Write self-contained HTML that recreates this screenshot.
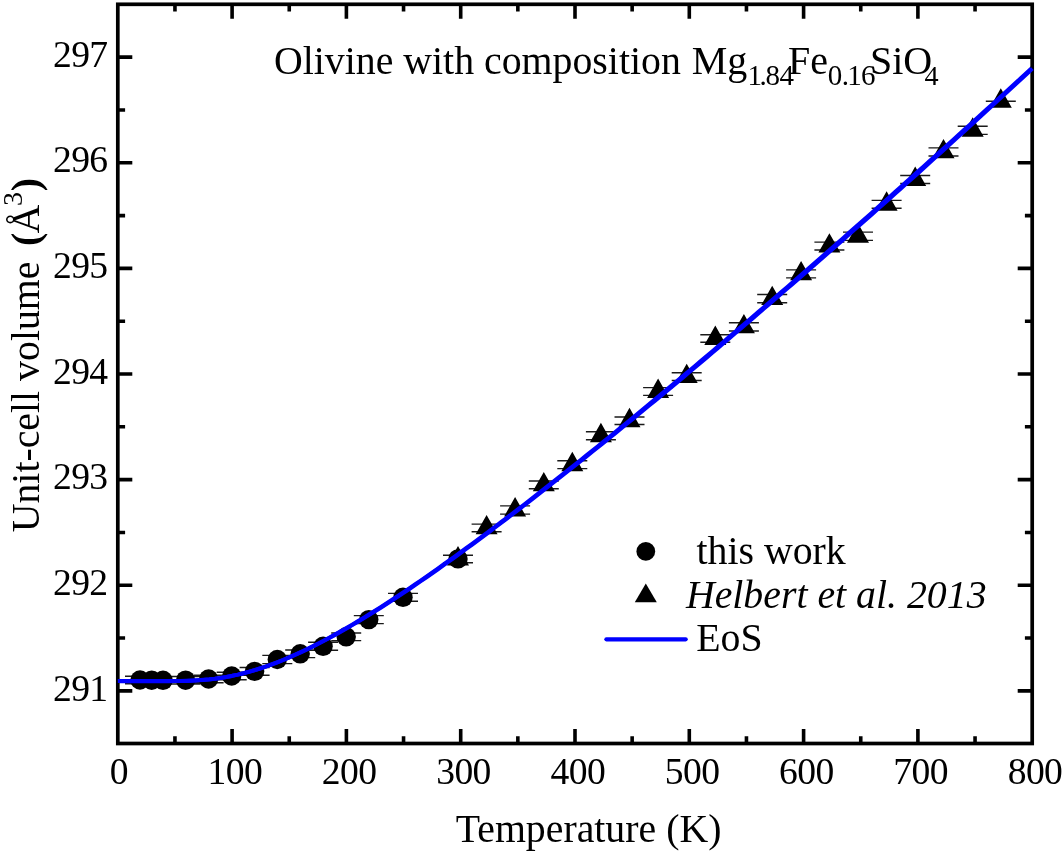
<!DOCTYPE html>
<html><head><meta charset="utf-8"><title>Olivine unit-cell volume</title>
<style>html,body{margin:0;padding:0;background:#fff;}body{width:1062px;height:853px;overflow:hidden;font-family:"Liberation Serif",serif;}</style></head>
<body>
<svg width="1062" height="853" viewBox="0 0 1062 853" style="display:block;will-change:transform">
<rect x="0" y="0" width="1062" height="853" fill="#ffffff"/>
<path d="M174.95 743.50V736.20M174.95 4.30V11.60M232.10 743.50V729.00M232.10 4.30V18.80M289.25 743.50V736.20M289.25 4.30V11.60M346.40 743.50V729.00M346.40 4.30V18.80M403.55 743.50V736.20M403.55 4.30V11.60M460.70 743.50V729.00M460.70 4.30V18.80M517.85 743.50V736.20M517.85 4.30V11.60M575.00 743.50V729.00M575.00 4.30V18.80M632.15 743.50V736.20M632.15 4.30V11.60M689.30 743.50V729.00M689.30 4.30V18.80M746.45 743.50V736.20M746.45 4.30V11.60M803.60 743.50V729.00M803.60 4.30V18.80M860.75 743.50V736.20M860.75 4.30V11.60M917.90 743.50V729.00M917.90 4.30V18.80M975.05 743.50V736.20M975.05 4.30V11.60M117.80 690.86H132.30M1032.20 690.86H1017.70M117.80 638.05H125.10M1032.20 638.05H1024.90M117.80 585.24H132.30M1032.20 585.24H1017.70M117.80 532.43H125.10M1032.20 532.43H1024.90M117.80 479.63H132.30M1032.20 479.63H1017.70M117.80 426.82H125.10M1032.20 426.82H1024.90M117.80 374.01H132.30M1032.20 374.01H1017.70M117.80 321.20H125.10M1032.20 321.20H1024.90M117.80 268.39H132.30M1032.20 268.39H1017.70M117.80 215.58H125.10M1032.20 215.58H1024.90M117.80 162.77H132.30M1032.20 162.77H1017.70M117.80 109.97H125.10M1032.20 109.97H1024.90M117.80 57.16H132.30M1032.20 57.16H1017.70" stroke="#000" stroke-width="3.6" fill="none"/>
<path d="M125.00 676.25H155.00M125.00 683.75H155.00M136.70 676.45H166.70M136.70 683.95H166.70M148.00 676.55H178.00M148.00 684.05H178.00M170.60 676.45H200.60M170.60 683.95H200.60M193.60 675.20H223.60M193.60 682.80H223.60M216.70 672.20H246.70M216.70 679.80H246.70M239.60 667.50H269.60M239.60 675.30H269.60M262.30 655.40H292.30M262.30 663.60H292.30M285.20 650.00H315.20M285.20 657.60H315.20M308.10 642.30H338.10M308.10 650.30H338.10M331.20 633.00H361.20M331.20 640.60H361.20M353.80 615.60H383.80M353.80 623.60H383.80M388.00 593.40H418.00M388.00 601.20H418.00M443.00 555.10H473.00M443.00 562.70H473.00M443.00 555.20H473.00M443.00 562.80H473.00M471.60 524.10H501.60M471.60 531.70H501.60M500.10 505.90H530.10M500.10 514.10H530.10M528.80 481.05H558.80M528.80 488.75H558.80M557.30 460.75H587.30M557.30 468.65H587.30M585.90 431.80H615.90M585.90 439.80H615.90M614.50 416.95H644.50M614.50 424.45H644.50M643.10 387.65H673.10M643.10 395.35H673.10M671.70 372.70H701.70M671.70 380.50H701.70M700.30 334.70H730.30M700.30 342.30H730.30M728.90 322.75H758.90M728.90 330.95H758.90M757.20 294.45H787.20M757.20 302.75H787.20M786.10 269.90H816.10M786.10 277.90H816.10M814.40 242.15H844.40M814.40 250.05H844.40M843.00 232.15H873.00M843.00 240.35H873.00M871.60 200.35H901.60M871.60 208.25H901.60M900.20 175.50H930.20M900.20 183.50H930.20M928.50 147.85H958.50M928.50 155.95H958.50M957.70 126.20H987.70M957.70 134.40H987.70M985.80 101.30H1015.80" stroke="#1a1a1a" stroke-width="1.4" fill="none"/>
<circle cx="140.00" cy="680.00" r="9.7" fill="#000"/>
<circle cx="151.70" cy="680.20" r="9.7" fill="#000"/>
<circle cx="163.00" cy="680.30" r="9.7" fill="#000"/>
<circle cx="185.60" cy="680.20" r="9.7" fill="#000"/>
<circle cx="208.60" cy="679.00" r="9.7" fill="#000"/>
<circle cx="231.70" cy="676.00" r="9.7" fill="#000"/>
<circle cx="254.60" cy="671.40" r="9.7" fill="#000"/>
<circle cx="277.30" cy="659.50" r="9.7" fill="#000"/>
<circle cx="300.20" cy="653.80" r="9.7" fill="#000"/>
<circle cx="323.10" cy="646.30" r="9.7" fill="#000"/>
<circle cx="346.20" cy="636.80" r="9.7" fill="#000"/>
<circle cx="368.80" cy="619.60" r="9.7" fill="#000"/>
<circle cx="403.00" cy="597.30" r="9.7" fill="#000"/>
<circle cx="458.00" cy="558.90" r="9.7" fill="#000"/>
<path d="M458.00 546.07L469.00 565.47H447.00ZM486.60 514.97L497.60 534.37H475.60ZM515.10 497.07L526.10 516.47H504.10ZM543.80 471.97L554.80 491.37H532.80ZM572.30 451.77L583.30 471.17H561.30ZM600.90 422.87L611.90 442.27H589.90ZM629.50 407.77L640.50 427.17H618.50ZM658.10 378.57L669.10 397.97H647.10ZM686.70 363.67L697.70 383.07H675.70ZM715.30 325.57L726.30 344.97H704.30ZM743.90 313.92L754.90 333.32H732.90ZM772.20 285.67L783.20 305.07H761.20ZM801.10 260.97L812.10 280.37H790.10ZM829.40 233.17L840.40 252.57H818.40ZM858.00 223.32L869.00 242.72H847.00ZM886.60 191.37L897.60 210.77H875.60ZM915.20 166.57L926.20 185.97H904.20ZM943.50 138.97L954.50 158.37H932.50ZM972.70 117.37L983.70 136.77H961.70ZM1000.80 88.37L1011.80 107.77H989.80Z" fill="#000"/>
<polyline points="117.80,681.15 123.52,681.15 129.23,681.15 134.94,681.15 140.66,681.15 146.38,681.15 152.09,681.15 157.81,681.15 163.52,681.14 169.24,681.13 174.95,681.09 180.66,681.01 186.38,680.88 192.09,680.67 197.81,680.37 203.52,679.96 209.24,679.43 214.95,678.77 220.67,677.96 226.38,677.01 232.10,675.92 237.81,674.67 243.53,673.28 249.25,671.75 254.96,670.07 260.68,668.26 266.39,666.31 272.11,664.24 277.82,662.05 283.54,659.74 289.25,657.32 294.96,654.79 300.68,652.16 306.39,649.44 312.11,646.63 317.82,643.72 323.54,640.74 329.25,637.67 334.97,634.53 340.69,631.32 346.40,628.05 352.12,624.70 357.83,621.30 363.55,617.84 369.26,614.32 374.98,610.75 380.69,607.13 386.41,603.46 392.12,599.74 397.84,595.98 403.55,592.17 409.27,588.33 414.98,584.45 420.69,580.53 426.41,576.57 432.12,572.58 437.84,568.56 443.56,564.50 449.27,560.41 454.99,556.30 460.70,552.16 466.42,547.99 472.13,543.79 477.85,539.56 483.56,535.32 489.28,531.05 494.99,526.75 500.71,522.43 506.42,518.10 512.13,513.74 517.85,509.36 523.56,504.96 529.28,500.54 535.00,496.10 540.71,491.65 546.42,487.18 552.14,482.69 557.86,478.18 563.57,473.66 569.28,469.12 575.00,464.57 580.72,460.00 586.43,455.41 592.14,450.82 597.86,446.20 603.58,441.58 609.29,436.94 615.00,432.29 620.72,427.62 626.43,422.94 632.15,418.25 637.87,413.55 643.58,408.84 649.29,404.11 655.01,399.38 660.72,394.63 666.44,389.87 672.15,385.10 677.87,380.32 683.58,375.53 689.30,370.72 695.01,365.91 700.73,361.09 706.44,356.26 712.16,351.42 717.88,346.57 723.59,341.71 729.30,336.84 735.02,331.96 740.74,327.07 746.45,322.17 752.16,317.27 757.88,312.35 763.59,307.43 769.31,302.50 775.02,297.56 780.74,292.61 786.45,287.66 792.17,282.69 797.88,277.72 803.60,272.74 809.31,267.75 815.03,262.76 820.75,257.75 826.46,252.74 832.17,247.72 837.89,242.70 843.61,237.66 849.32,232.62 855.03,227.58 860.75,222.52 866.46,217.46 872.18,212.39 877.89,207.31 883.61,202.23 889.32,197.14 895.04,192.04 900.75,186.94 906.47,181.83 912.18,176.71 917.90,171.58 923.62,166.45 929.33,161.31 935.04,156.17 940.76,151.02 946.48,145.86 952.19,140.70 957.90,135.53 963.62,130.35 969.33,125.17 975.05,119.98 980.76,114.78 986.48,109.58 992.19,104.37 997.91,99.16 1003.62,93.94 1009.34,88.71 1015.05,83.48 1020.77,78.24 1026.49,73.00 1032.20,67.75" fill="none" stroke="#0000ff" stroke-width="4" stroke-linejoin="round"/>
<rect x="117.8" y="4.3" width="914.40" height="739.20" fill="none" stroke="#000" stroke-width="3.7"/>
<polyline points="117.80,681.05 123.52,681.05 129.23,681.05 134.95,681.05 140.66,681.05 146.38,681.05 152.10,681.05 157.81,681.05 163.53,681.04 169.25,681.03 174.96,680.99 180.68,680.91 186.40,680.78 192.11,680.57 197.83,680.27 203.54,679.86 209.26,679.33 214.98,678.67 220.69,677.87 226.41,676.92 232.12,675.82 237.84,674.58 243.56,673.19 249.27,671.66 254.99,670.01 260.71,668.22 266.42,666.31 272.14,664.26 277.86,662.10 283.57,659.82 289.29,657.43 295.00,654.93 300.72,652.33 306.44,649.64 312.15,646.85 317.87,643.98 323.59,641.02 329.30,637.99 335.02,634.88 340.73,631.70 346.45,628.45 352.17,625.14 357.88,621.76 363.60,618.33 369.32,614.84 375.03,611.30 380.75,607.71 386.46,604.05 392.18,600.34 397.90,596.59 403.61,592.80 409.33,588.97 415.05,585.09 420.76,581.18 426.48,577.24 432.19,573.26 437.91,569.25 443.63,565.20 449.34,561.13 455.06,557.02 460.78,552.89 466.49,548.73 472.21,544.54 477.92,540.32 483.64,536.08 489.36,531.81 495.07,527.52 500.79,523.21 506.51,518.88 512.22,514.52 517.94,510.15 523.65,505.75 529.37,501.34 535.09,496.91 540.80,492.46 546.52,487.99 552.24,483.51 557.95,479.01 563.67,474.50 569.38,469.99 575.10,465.46 580.82,460.91 586.53,456.35 592.25,451.78 597.97,447.19 603.68,442.59 609.40,437.97 615.11,433.35 620.83,428.71 626.55,424.05 632.26,419.39 637.98,414.71 643.70,410.02 649.41,405.32 655.13,400.61 660.84,395.88 666.56,391.15 672.28,386.40 677.99,381.64 683.71,376.86 689.43,372.07 695.14,367.26 700.86,362.45 706.57,357.62 712.29,352.78 718.01,347.94 723.72,343.08 729.44,338.22 735.15,333.35 740.87,328.46 746.59,323.57 752.30,318.67 758.02,313.76 763.74,308.85 769.45,303.92 775.17,298.99 780.89,294.04 786.60,289.09 792.32,284.14 798.03,279.17 803.75,274.19 809.47,269.21 815.18,264.22 820.90,259.22 826.62,254.22 832.33,249.21 838.05,244.18 843.76,239.16 849.48,234.12 855.20,229.08 860.91,224.03 866.63,218.97 872.35,213.91 878.06,208.84 883.78,203.76 889.49,198.67 895.21,193.58 900.93,188.48 906.64,183.38 912.36,178.27 918.08,173.15 923.79,168.00 929.51,162.82 935.22,157.64 940.94,152.46 946.66,147.27 952.37,142.07 958.09,136.86 963.81,131.65 969.52,126.43 975.24,121.21 980.95,115.98 986.67,110.74 992.39,105.50 998.10,100.25 1003.82,94.99 1009.54,89.73 1015.25,84.47 1020.97,79.19 1026.68,73.91 1032.40,68.63" fill="none" stroke="#0000ff" stroke-width="4" stroke-linejoin="round"/>
<text id="xl0" x="118.80" y="784.3" text-anchor="middle" font-family="Liberation Serif, serif" font-size="37.6" letter-spacing="-0.55">0</text>
<text id="xl1" x="234.90" y="784.3" text-anchor="middle" font-family="Liberation Serif, serif" font-size="37.6" letter-spacing="-0.55">100</text>
<text id="xl2" x="349.20" y="784.3" text-anchor="middle" font-family="Liberation Serif, serif" font-size="37.6" letter-spacing="-0.55">200</text>
<text id="xl3" x="463.50" y="784.3" text-anchor="middle" font-family="Liberation Serif, serif" font-size="37.6" letter-spacing="-0.55">300</text>
<text id="xl4" x="577.80" y="784.3" text-anchor="middle" font-family="Liberation Serif, serif" font-size="37.6" letter-spacing="-0.55">400</text>
<text id="xl5" x="692.10" y="784.3" text-anchor="middle" font-family="Liberation Serif, serif" font-size="37.6" letter-spacing="-0.55">500</text>
<text id="xl6" x="806.40" y="784.3" text-anchor="middle" font-family="Liberation Serif, serif" font-size="37.6" letter-spacing="-0.55">600</text>
<text id="xl7" x="920.70" y="784.3" text-anchor="middle" font-family="Liberation Serif, serif" font-size="37.6" letter-spacing="-0.55">700</text>
<text id="xl8" x="1035.00" y="784.3" text-anchor="middle" font-family="Liberation Serif, serif" font-size="37.6" letter-spacing="-0.55">800</text>
<text id="yl291" x="52.9" y="700.51" font-family="Liberation Serif, serif" font-size="37.6" letter-spacing="-0.55">291</text>
<text id="yl292" x="52.9" y="594.89" font-family="Liberation Serif, serif" font-size="37.6" letter-spacing="-0.55">292</text>
<text id="yl293" x="52.9" y="489.28" font-family="Liberation Serif, serif" font-size="37.6" letter-spacing="-0.55">293</text>
<text id="yl294" x="52.9" y="383.66" font-family="Liberation Serif, serif" font-size="37.6" letter-spacing="-0.55">294</text>
<text id="yl295" x="52.9" y="278.04" font-family="Liberation Serif, serif" font-size="37.6" letter-spacing="-0.55">295</text>
<text id="yl296" x="52.9" y="172.42" font-family="Liberation Serif, serif" font-size="37.6" letter-spacing="-0.55">296</text>
<text id="yl297" x="52.9" y="66.81" font-family="Liberation Serif, serif" font-size="37.6" letter-spacing="-0.55">297</text>
<text id="xt" x="455.7" y="842.1" font-family="Liberation Serif, serif" font-size="39.8">Temperature (K)</text>
<text id="yt" transform="translate(38.6 532.3) rotate(-90)" font-family="Liberation Serif, serif" font-size="39.8">Unit-cell volume <tspan font-weight="bold" dx="5.7">(</tspan><tspan dx="-0.85">Å</tspan><tspan font-size="28" dy="-16.3" dx="-1.3">3</tspan><tspan dy="16.3" dx="0.75" font-weight="bold">)</tspan></text>
<text id="t1" x="274" y="73.6" font-family="Liberation Serif, serif" font-size="39.8">Olivine with composition</text>
<text id="t2" x="691.7" y="73.6" font-family="Liberation Serif, serif" font-size="40">Mg</text>
<text id="t3" x="747.40 759.50 765.55 779.45" y="84.9" font-family="Liberation Serif, serif" font-size="29">1.84</text>
<text id="t4" x="788.0" y="73.6" font-family="Liberation Serif, serif" font-size="40">Fe</text>
<text id="t5" x="827.80 841.70 847.20 861.00" y="84.9" font-family="Liberation Serif, serif" font-size="29">0.16</text>
<text id="t6" x="869.9" y="73.6" font-family="Liberation Serif, serif" font-size="40">SiO</text>
<text id="t7" x="924.5" y="84.9" font-family="Liberation Serif, serif" font-size="28.2">4</text>
<circle cx="645.8" cy="551.4" r="9.4" fill="#000"/>
<path d="M645.8 583.4L656.8 602.2H634.8Z" fill="#000"/>
<path d="M606.4 639.3H685.7" stroke="#0000ff" stroke-width="4.2" stroke-linecap="round"/>
<text id="l1" x="696.5" y="563.6" font-family="Liberation Serif, serif" font-size="39.8">this work</text>
<text id="l2" x="685.9" y="607.5" font-family="Liberation Serif, serif" font-size="39.8" font-style="italic">Helbert et al. 2013</text>
<text id="l3" x="696.2" y="650.8" font-family="Liberation Serif, serif" font-size="39.8">EoS</text>
</svg>
</body></html>
